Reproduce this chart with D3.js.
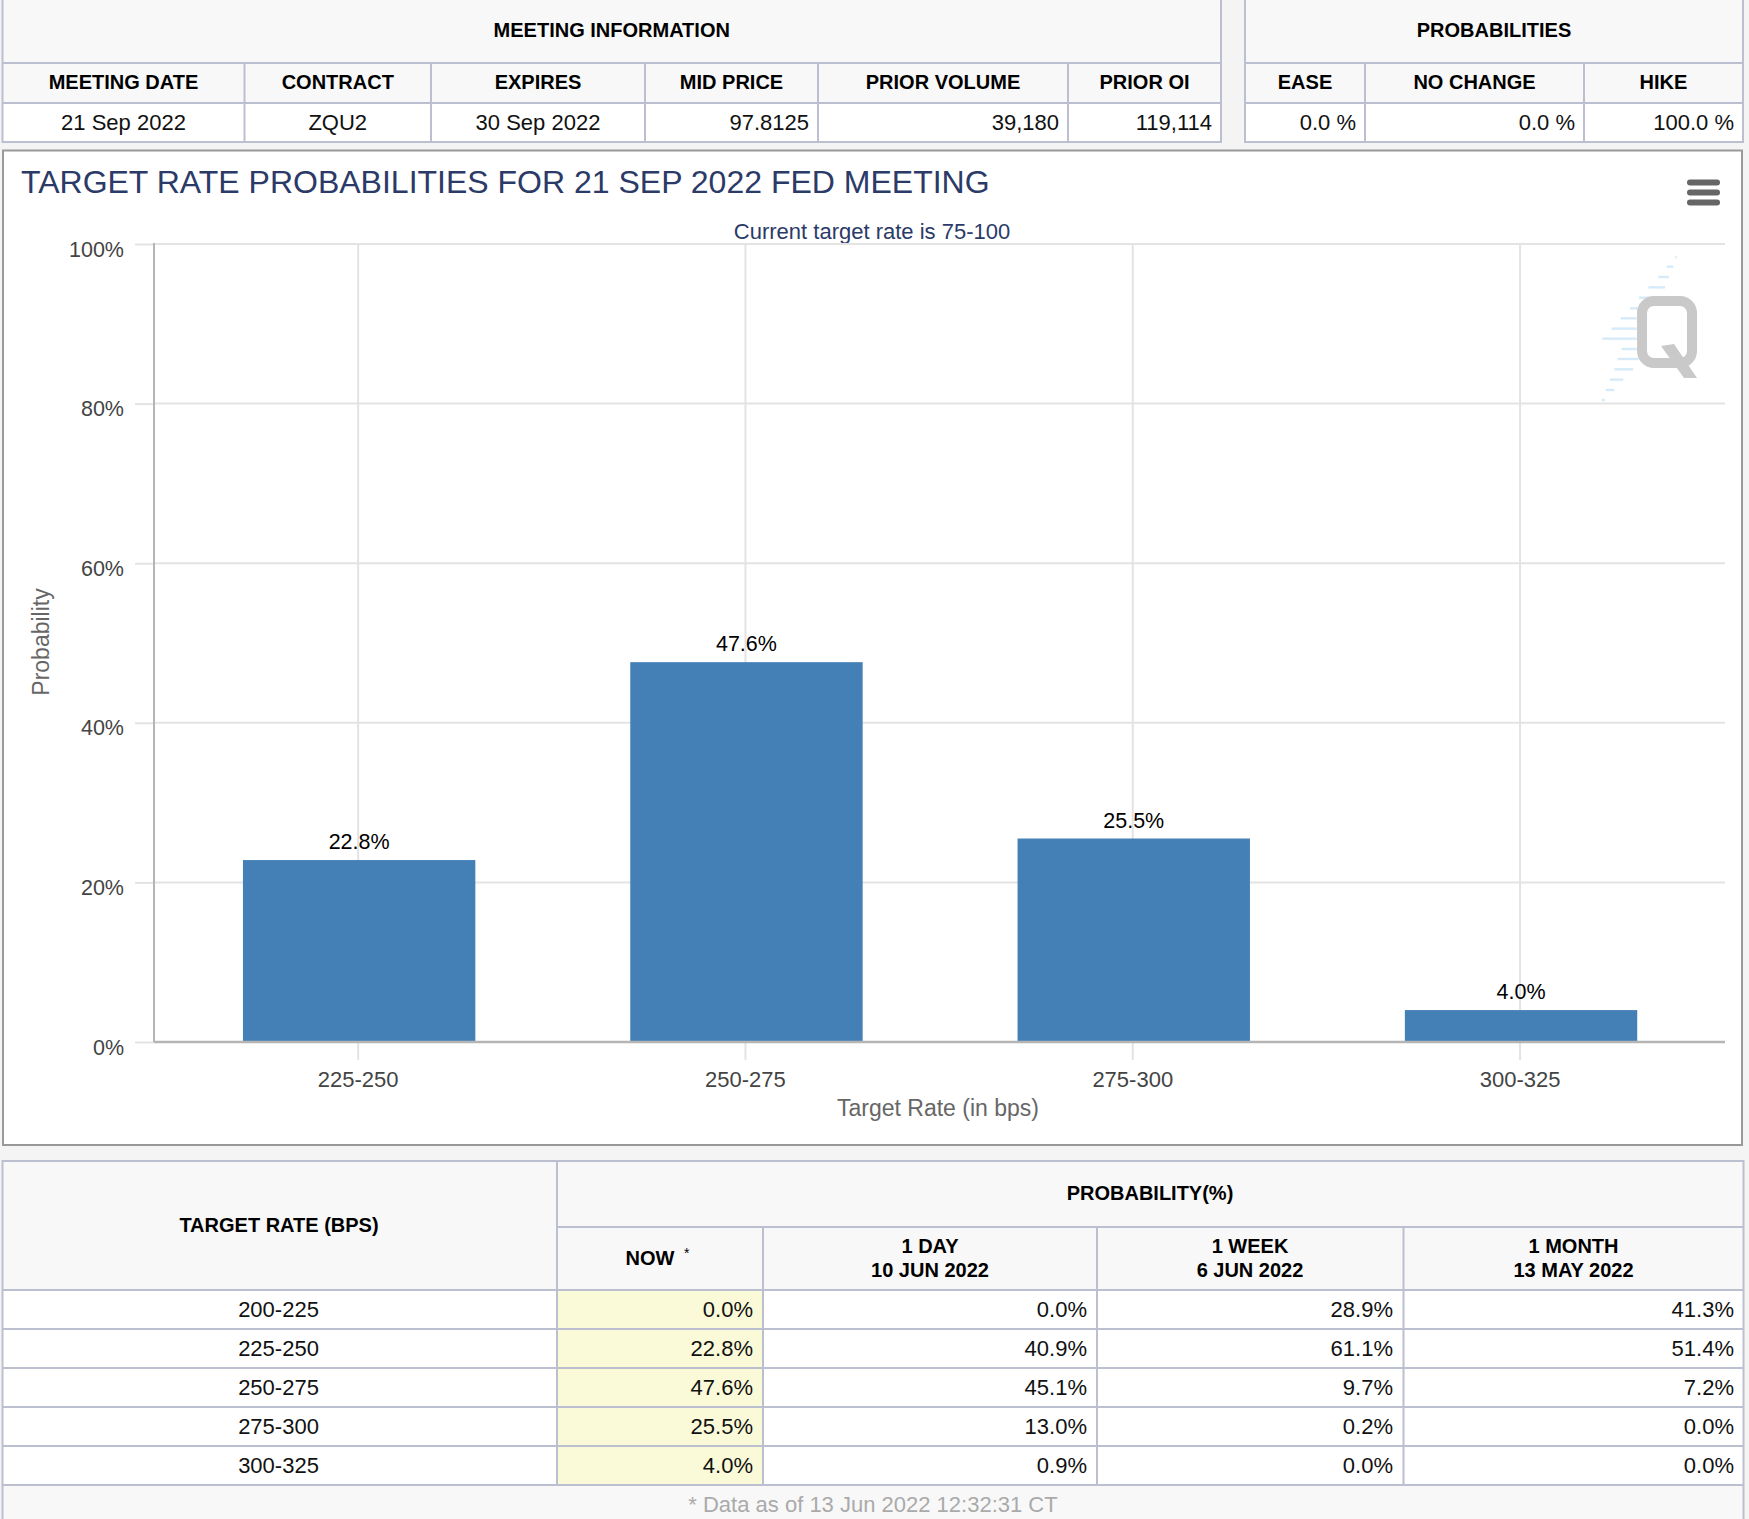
<!DOCTYPE html>
<html>
<head>
<meta charset="utf-8">
<script src="https://cdnjs.cloudflare.com/ajax/libs/d3/7.8.5/d3.min.js"></script>
<style>
  html, body { margin: 0; padding: 0; background: #f4f4f4; }
  svg { display: block; font-family: "Liberation Sans", Arial, sans-serif; }
  .head { font-weight: bold; font-size: 20px; fill: #000; }
  .cell { font-size: 22px; fill: #111; }
  .tick text { font-family: "Liberation Sans", Arial, sans-serif; }
</style>
</head>
<body>
<script>
// top tables
var meetingTitle = 'MEETING INFORMATION';
var meetingHeads = ['MEETING DATE','CONTRACT','EXPIRES','MID PRICE','PRIOR VOLUME','PRIOR OI'];
var meetingCells = ['21 Sep 2022','ZQU2','30 Sep 2022','97.8125','39,180','119,114'];
var probTitle = 'PROBABILITIES';
var probHeads = ['EASE','NO CHANGE','HIKE'];
var probCells = ['0.0 %','0.0 %','100.0 %'];

// chart
var chartTitle = 'TARGET RATE PROBABILITIES FOR 21 SEP 2022 FED MEETING';
var chartSubtitle = 'Current target rate is 75-100';
var categories = ['225-250','250-275','275-300','300-325'];
var probabilities = [22.8,47.6,25.5,4.0];
var yTicks = [0,20,40,60,80,100];

// bottom table
var targetRates = ['200-225','225-250','250-275','275-300','300-325'];
var nowValues = ['0.0%','22.8%','47.6%','25.5%','4.0%'];
var oneDayValues = ['0.0%','40.9%','45.1%','13.0%','0.9%'];
var oneWeekValues = ['28.9%','61.1%','9.7%','0.2%','0.0%'];
var oneMonthValues = ['41.3%','51.4%','7.2%','0.0%','0.0%'];
var footNote = '* Data as of 13 Jun 2022 12:32:31 CT';

var border = '#bcbfd0', headBg = '#f8f8f8';
var svg = d3.select('body').append('svg').attr('width',1749).attr('height',1519);

function rect(p,x0,y0,x1,y1,fill){
  return p.append('rect').attr('x',x0).attr('y',y0).attr('width',x1-x0).attr('height',y1-y0).attr('fill',fill);
}
function line(p,x0,y0,x1,y1,color,w){
  return p.append('line').attr('x1',x0).attr('y1',y0).attr('x2',x1).attr('y2',y1)
    .attr('stroke',color).attr('stroke-width',w===undefined?2:w);
}
function text(p,x,y,s,cls,anchor){
  return p.append('text').attr('x',x).attr('y',y).attr('class',cls)
    .attr('text-anchor',anchor||'middle').text(s);
}

// column edges and which cells are right aligned, one table at a time
function topTable(g,edges,title,heads,cells,aligns){
  var x0 = edges[0], x1 = edges[edges.length-1];
  rect(g,x0,0,x1,103,headBg);
  rect(g,x0,103,x1,142,'#fff');
  text(g,(x0+x1)/2,37,title,'head');
  line(g,x0,63,x1,63,border);
  line(g,x0,103,x1,103,border);
  line(g,x0,142,x1,142,border);
  edges.forEach(function(e,i){
    line(g,e,(i==0||i==edges.length-1)?0:63,e,143,border);
  });
  heads.forEach(function(h,i){
    text(g,(edges[i]+edges[i+1])/2,89,h,'head');
    if (aligns[i]=='end') text(g,edges[i+1]-9,130,cells[i],'cell','end');
    else text(g,(edges[i]+edges[i+1])/2,130,cells[i],'cell');
  });
}
topTable(svg.append('g'),[2.5,244.5,431,645,818,1068,1221],meetingTitle,meetingHeads,meetingCells,
  ['middle','middle','middle','end','end','end']);
topTable(svg.append('g'),[1245,1365,1584,1743],probTitle,probHeads,probCells,['end','end','end']);

// chart box
var chart = svg.append('g');
rect(chart,3,150.5,1742,1145,'#fff').attr('stroke','#999').attr('stroke-width',2);
chart.append('text').attr('x',21).attr('y',193).attr('font-size',32).attr('fill','#2b3a67').text(chartTitle);
chart.append('text').attr('x',872).attr('y',239).attr('text-anchor','middle').attr('font-size',22)
  .attr('fill','#2b3a67').text(chartSubtitle);

var x = d3.scaleBand().domain(categories).range([165.5,1714.7]).paddingInner(0.4).paddingOuter(0.2);
var y = d3.scaleLinear().domain([0,100]).range([1042,244]);
var cx = function(d){ return x(d)+x.bandwidth()/2-1; };

// watermark
var mark = chart.append('g');
var dashes = [[315,320,82],[290,310,110],[265,297,141],[235,285,172],[207,240,203],[180,205,235],[152,200,265],
  [125,200,296],[97,200,326],[155,200,357],[143,205,387],[133,190,418],[120,160,449],[107,133,480],[95,105,510]];
dashes.forEach(function(d){
  rect(mark,1570+d[0]/3,230+d[2]/3-1.2,1570+d[1]/3,230+d[2]/3+1.2,'#d6ebf9');
});
mark.append('rect').attr('x',1642).attr('y',301).attr('width',50).attr('height',62).attr('rx',12)
  .attr('fill','none').attr('stroke','#c9c9c9').attr('stroke-width',10);
mark.append('path').attr('d','M1661 346 L1674 344 L1697 378 L1684 378 Z').attr('fill','#c9c9c9');

// gridlines
chart.append('g').selectAll('line').data(yTicks.slice(1)).join('line')
  .attr('x1',154).attr('x2',1725).attr('y1',y).attr('y2',y).attr('stroke','#e3e3e3').attr('stroke-width',2);
chart.append('g').selectAll('line').data(categories).join('line')
  .attr('x1',cx).attr('x2',cx).attr('y1',244).attr('y2',1042).attr('stroke','#e3e3e3').attr('stroke-width',2);

// axes
var xAxis = d3.axisBottom(x).tickSize(18).tickPadding(11);
var xg = chart.append('g').attr('transform','translate(-1,1042)').call(xAxis);
xg.select('.domain').remove();
xg.selectAll('.tick line').attr('stroke','#e3e3e3').attr('stroke-width',2);
xg.selectAll('.tick text').attr('font-size',22).attr('fill','#444').attr('dy','0.71em');

var yAxis = d3.axisLeft(y).tickValues(yTicks).tickFormat(function(d){return d+'%'}).tickSize(19).tickPadding(11);
var yg = chart.append('g').attr('transform','translate(154,0)').call(yAxis);
yg.select('.domain').remove();
yg.selectAll('.tick line').attr('stroke','#e3e3e3').attr('stroke-width',2);
yg.selectAll('.tick text').attr('font-size',21.5).attr('fill','#444').attr('dy','0.75em')
  .attr('y',-4);

// bars
chart.append('g').selectAll('rect').data(categories).join('rect')
  .attr('x',function(d){return x(d)})
  .attr('width',x.bandwidth())
  .attr('y',function(d,i){return y(probabilities[i])})
  .attr('height',function(d,i){return y(0)-y(probabilities[i])})
  .attr('fill','#4480b5');
chart.append('g').selectAll('text').data(categories).join('text')
  .attr('x',function(d){return x(d)+x.bandwidth()/2})
  .attr('y',function(d,i){return y(probabilities[i])-11})
  .attr('text-anchor','middle').attr('font-size',21.5).attr('fill','#000')
  .text(function(d,i){return probabilities[i].toFixed(1)+'%'});

line(chart,154,243,154,1042,'#b5b5b5');
line(chart,154,1042,1725,1042,'#b5b5b5',2.5);

chart.append('text').attr('x',938).attr('y',1116).attr('text-anchor','middle').attr('font-size',23)
  .attr('fill','#666').text('Target Rate (in bps)');
chart.append('text').attr('transform','translate(49,642) rotate(-90)').attr('text-anchor','middle')
  .attr('font-size',23).attr('fill','#666').text('Probability');

// hamburger
[179.5,189.5,199.5].forEach(function(t){
  rect(chart,1687,t,1720,t+6,'#666').attr('rx',3);
});

// bottom table
var bt = svg.append('g');
var colEdges = [2.5,557,763,1097,1403.5,1743.5];
var rowEdges = [1290,1329,1368,1407,1446,1485];
rect(bt,2.5,1161,1743.5,1290,headBg);
rect(bt,2.5,1290,1743.5,1485,'#fff');
rect(bt,557,1290,763,1485,'#fafad8');
rect(bt,2.5,1485,1743.5,1519,headBg);
line(bt,2.5,1161,1743.5,1161,border);
line(bt,557,1227,1743.5,1227,border);
rowEdges.forEach(function(r){ line(bt,2.5,r,1743.5,r,border); });
line(bt,2.5,1160,2.5,1519,border);
line(bt,1743.5,1160,1743.5,1519,border);
line(bt,557,1161,557,1485,border);
colEdges.slice(2,5).forEach(function(e){ line(bt,e,1227,e,1485,border); });

text(bt,279,1232,'TARGET RATE (BPS)','head');
text(bt,1150,1200,'PROBABILITY(%)','head');
text(bt,650,1265,'NOW','head');
bt.append('text').attr('x',684).attr('y',1258).attr('font-size',14).attr('fill','#000').text('*');
var colHeads = [[930,'1 DAY','10 JUN 2022'],[1250,'1 WEEK','6 JUN 2022'],[1573.5,'1 MONTH','13 MAY 2022']];
colHeads.forEach(function(c){
  text(bt,c[0],1253,c[1],'head');
  text(bt,c[0],1277,c[2],'head');
});
targetRates.forEach(function(r,i){
  var ty = rowEdges[i]+27;
  text(bt,278.5,ty,r,'cell');
  text(bt,753,ty,nowValues[i],'cell','end');
  text(bt,1087,ty,oneDayValues[i],'cell','end');
  text(bt,1393,ty,oneWeekValues[i],'cell','end');
  text(bt,1734,ty,oneMonthValues[i],'cell','end');
});
text(bt,873,1512,footNote,'cell').style('fill','#aaa');
</script>
</body>
</html>
